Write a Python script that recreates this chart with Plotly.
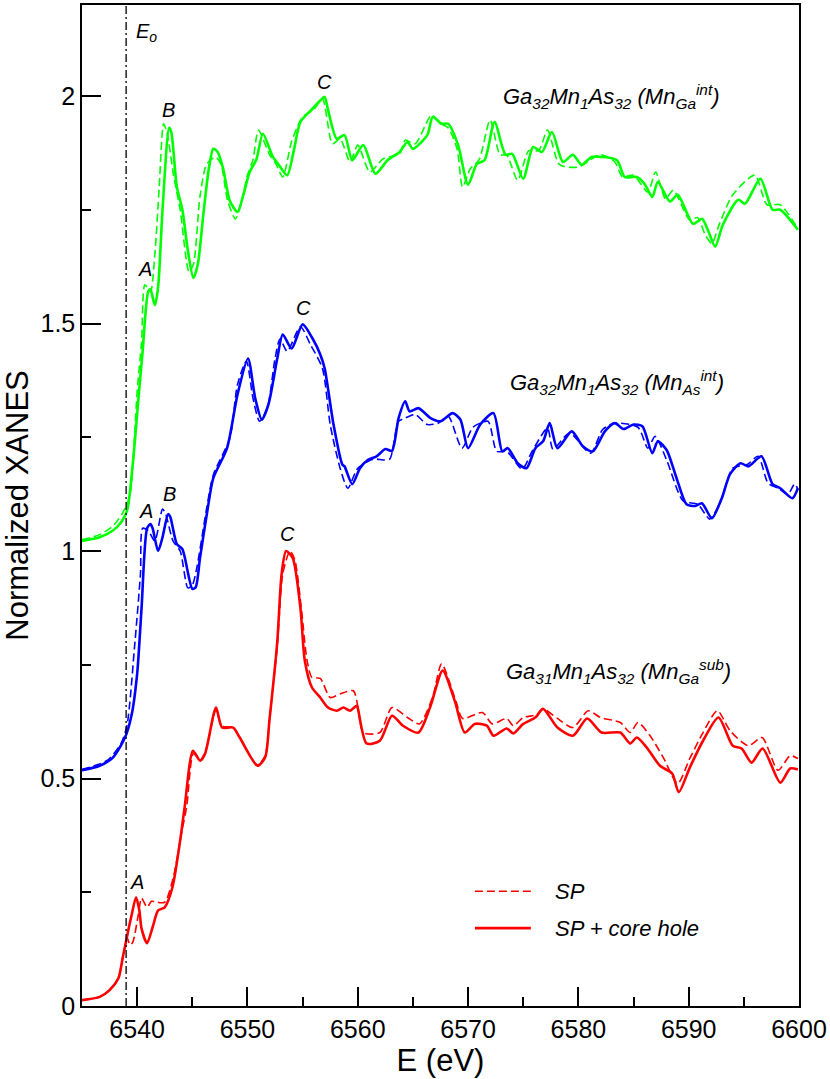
import plotly.graph_objects as go

# ---------------- data ----------------
E_edge = 6539.0

gs_E = [6535.0,6536.6,6537.8,6538.6,6539.1,6539.6,6540.1,6540.5,6541.0,6541.2,6541.6,6541.9,6542.3,6542.9,6543.1,6543.6,6544.1,6544.6,6545.1,6545.5,6546.0,6546.5,6546.9,6547.3,6547.8,6548.4,6549.1,6549.6,6550.2,6550.8,6551.4,6552.3,6552.8,6553.6,6554.2,6554.8,6555.9,6556.6,6557.0,6557.3,6558.1,6558.8,6559.5,6560.5,6561.6,6562.7,6563.8,6564.5,6565.0,6566.3,6566.8,6567.6,6568.2,6569.1,6570.0,6570.8,6571.5,6572.4,6573.4,6574.0,6575.0,6575.9,6576.7,6577.6,6578.6,6579.5,6580.3,6581.2,6582.2,6583.5,6584.2,6585.3,6586.0,6586.7,6587.2,6588.3,6589.0,6590.4,6591.2,6591.8,6592.4,6593.1,6594.5,6595.1,6596.5,6597.6,6598.3,6599.9]
gs_y = [1.022,1.030,1.045,1.065,1.09,1.19,1.33,1.44,1.57,1.575,1.54,1.58,1.75,1.93,1.92,1.80,1.75,1.66,1.60,1.63,1.74,1.84,1.884,1.877,1.84,1.77,1.745,1.78,1.833,1.86,1.917,1.866,1.85,1.826,1.88,1.943,1.972,1.99,1.998,1.97,1.906,1.914,1.859,1.892,1.829,1.859,1.877,1.899,1.884,1.914,1.954,1.939,1.939,1.892,1.805,1.851,1.859,1.943,1.871,1.873,1.818,1.888,1.877,1.921,1.855,1.871,1.849,1.866,1.866,1.859,1.822,1.822,1.807,1.778,1.811,1.768,1.783,1.719,1.730,1.702,1.669,1.717,1.772,1.763,1.818,1.750,1.750,1.706]

gd_E = [6535.0,6536.6,6537.8,6538.6,6539.1,6539.4,6540.0,6540.4,6540.7,6541.2,6541.6,6542.0,6542.4,6542.7,6543.3,6543.9,6544.7,6545.1,6545.7,6546.3,6547.1,6547.6,6548.2,6548.9,6549.4,6550.0,6550.5,6551.0,6552.0,6552.6,6553.2,6554.0,6555.0,6556.0,6556.8,6557.7,6558.4,6559.3,6560.0,6561.1,6562.3,6563.8,6564.3,6565.2,6566.7,6567.5,6568.2,6569.0,6569.5,6570.2,6571.0,6572.0,6572.9,6573.5,6574.5,6575.5,6576.4,6577.2,6578.3,6580.0,6582.0,6583.3,6584.0,6585.0,6586.3,6587.0,6587.9,6588.6,6590.1,6590.8,6591.5,6592.1,6592.8,6594.0,6596.0,6597.1,6598.3,6599.9]
gd_y = [1.025,1.036,1.055,1.08,1.105,1.13,1.35,1.46,1.585,1.57,1.65,1.80,1.939,1.92,1.826,1.75,1.614,1.63,1.78,1.85,1.866,1.85,1.77,1.730,1.76,1.826,1.86,1.925,1.871,1.85,1.822,1.90,1.954,1.97,1.994,1.895,1.906,1.855,1.892,1.833,1.862,1.873,1.903,1.895,1.958,1.94,1.93,1.884,1.80,1.84,1.86,1.947,1.871,1.87,1.815,1.88,1.88,1.925,1.849,1.844,1.871,1.855,1.822,1.826,1.789,1.833,1.774,1.793,1.727,1.733,1.695,1.676,1.72,1.783,1.826,1.761,1.761,1.708]

bs_E = [6535.0,6536.6,6537.8,6538.9,6539.5,6540.0,6540.4,6540.9,6541.2,6541.4,6541.9,6542.3,6542.8,6543.0,6543.6,6544.1,6545.0,6545.3,6545.7,6546.4,6546.9,6548.15,6549.1,6550.05,6550.7,6551.3,6551.9,6552.7,6553.2,6554.0,6555.0,6555.9,6556.6,6557.0,6557.8,6558.6,6558.8,6559.5,6560.2,6560.9,6561.7,6562.5,6563.1,6563.7,6564.3,6564.7,6565.5,6566.6,6567.5,6568.6,6569.3,6570.0,6571.1,6572.3,6573.1,6573.6,6574.5,6575.3,6576.1,6576.8,6577.4,6578.1,6579.4,6580.4,6581.3,6582.4,6583.3,6584.1,6585.0,6585.8,6586.7,6587.2,6588.0,6588.9,6589.8,6590.6,6591.2,6592.1,6593.0,6593.75,6594.7,6595.4,6596.6,6597.6,6598.3,6599.4,6599.9]
bs_y = [0.518,0.528,0.546,0.59,0.64,0.73,0.875,1.05,1.059,1.05,1.0,1.03,1.081,1.075,1.015,1.004,0.917,0.92,0.985,1.094,1.16,1.226,1.344,1.423,1.336,1.289,1.322,1.423,1.476,1.445,1.498,1.467,1.432,1.401,1.278,1.19,1.186,1.147,1.182,1.20,1.208,1.224,1.22,1.292,1.329,1.307,1.314,1.292,1.285,1.303,1.289,1.226,1.278,1.303,1.219,1.226,1.193,1.182,1.226,1.241,1.281,1.226,1.263,1.230,1.219,1.263,1.281,1.268,1.278,1.274,1.215,1.241,1.222,1.16,1.103,1.099,1.105,1.072,1.116,1.169,1.193,1.186,1.208,1.147,1.138,1.116,1.138]

bd_E = [6535.0,6536.6,6537.5,6538.6,6539.1,6539.8,6540.3,6540.5,6541.0,6541.6,6542.3,6542.6,6543.25,6543.9,6544.6,6545.0,6545.4,6546.3,6546.9,6548.4,6549.1,6549.9,6550.5,6551.1,6551.8,6552.5,6552.95,6553.6,6554.8,6555.7,6556.8,6557.5,6558.4,6559.1,6560.0,6561.4,6562.3,6562.9,6563.7,6564.3,6565.2,6566.3,6567.3,6568.2,6569.45,6570.45,6571.8,6572.6,6573.5,6574.9,6575.8,6577.2,6577.7,6579.2,6581.1,6582.2,6583.3,6585.4,6586.3,6586.95,6588.0,6589.5,6590.8,6591.5,6591.9,6592.8,6594.0,6595.3,6596.3,6597.2,6598.1,6599.0,6599.6,6599.9]
bd_y = [0.52,0.532,0.544,0.58,0.62,0.80,0.95,1.05,1.045,1.022,1.092,1.08,1.022,1.0,0.919,0.925,0.962,1.094,1.167,1.248,1.366,1.417,1.336,1.285,1.314,1.423,1.466,1.439,1.493,1.454,1.401,1.278,1.182,1.138,1.182,1.202,1.20,1.202,1.285,1.292,1.30,1.278,1.281,1.296,1.226,1.272,1.285,1.219,1.219,1.18,1.219,1.270,1.224,1.259,1.215,1.267,1.281,1.272,1.226,1.252,1.20,1.11,1.103,1.081,1.07,1.103,1.182,1.19,1.208,1.149,1.138,1.125,1.147,1.136]

rs_E = [6535.0,6536.6,6537.5,6538.3,6538.7,6539.2,6539.5,6539.9,6540.2,6540.4,6540.9,6541.4,6541.9,6542.5,6543.2,6543.9,6544.3,6545.06,6545.7,6546.15,6547.15,6547.7,6548.7,6549.3,6550.9,6551.6,6552.0,6552.7,6553.1,6553.5,6554.1,6554.8,6555.2,6555.85,6556.6,6557.3,6558.1,6558.7,6559.3,6559.9,6560.0,6560.8,6562.0,6563.1,6564.1,6565.5,6566.55,6567.7,6568.8,6569.7,6570.6,6571.7,6572.3,6573.5,6574.1,6575.0,6576.1,6576.8,6578.1,6579.5,6580.8,6582.1,6583.8,6584.7,6585.3,6586.2,6587.4,6588.5,6589.1,6590.1,6591.3,6592.7,6594.0,6594.8,6595.7,6596.7,6598.3,6599.2,6599.9]
rs_y = [0.013,0.02,0.035,0.061,0.107,0.167,0.20,0.239,0.21,0.17,0.138,0.173,0.21,0.217,0.261,0.364,0.436,0.561,0.539,0.554,0.656,0.612,0.612,0.59,0.528,0.546,0.63,0.80,0.95,1.0,0.985,0.875,0.759,0.70,0.678,0.656,0.649,0.656,0.649,0.66,0.655,0.577,0.583,0.638,0.616,0.601,0.656,0.737,0.67,0.601,0.62,0.616,0.594,0.61,0.599,0.62,0.634,0.653,0.612,0.594,0.632,0.601,0.601,0.577,0.59,0.568,0.528,0.511,0.47,0.524,0.583,0.634,0.572,0.566,0.535,0.566,0.491,0.522,0.52]

rd_E = [6535.0,6536.6,6537.5,6538.3,6538.7,6539.1,6539.35,6539.6,6540.1,6540.4,6540.9,6541.3,6541.8,6542.5,6543.25,6544.07,6544.5,6545.1,6545.7,6546.2,6547.15,6547.7,6548.7,6549.3,6550.9,6551.6,6552.0,6552.7,6553.2,6553.86,6554.3,6554.9,6555.4,6555.85,6556.6,6557.5,6558.4,6559.6,6560.0,6560.5,6562.0,6563.1,6564.5,6565.6,6566.8,6567.6,6568.9,6569.5,6571.3,6572.2,6573.5,6574.1,6575.0,6576.2,6576.8,6578.1,6579.5,6580.9,6582.0,6583.8,6584.7,6585.4,6586.5,6587.7,6589.0,6590.1,6591.3,6592.6,6593.75,6595.4,6596.65,6598.1,6599.2,6599.9]
rd_y = [0.013,0.02,0.035,0.061,0.107,0.15,0.134,0.14,0.20,0.237,0.217,0.23,0.228,0.228,0.28,0.386,0.44,0.555,0.54,0.56,0.65,0.615,0.612,0.59,0.53,0.55,0.63,0.79,0.95,1.0,0.98,0.87,0.76,0.722,0.72,0.678,0.686,0.693,0.66,0.601,0.601,0.656,0.634,0.62,0.68,0.752,0.67,0.632,0.645,0.62,0.632,0.616,0.634,0.64,0.653,0.632,0.612,0.649,0.634,0.623,0.601,0.623,0.594,0.546,0.489,0.544,0.601,0.649,0.605,0.572,0.59,0.518,0.55,0.544]

x_ticks = [6540, 6550, 6560, 6570, 6580, 6590, 6600]
y_ticks = [0, 0.5, 1, 1.5, 2]
y_tick_text = ["0", "0.5", "1", "1.5", "2"]
legend_labels = ["SP", "SP + core hole"]

GREEN = "#00ff00"
BLUE = "#0000ff"
RED = "#ff0000"
FONT = "Liberation Sans, Arial, sans-serif"
DASH = "8px,4px"
W_DASH, W_SOLID = 1.6, 2.6

fig = go.Figure()

def add(xs, ys, color, dashed):
    fig.add_trace(go.Scatter(
        x=xs, y=ys, mode="lines", showlegend=False,
        line=dict(color=color, width=W_DASH if dashed else W_SOLID,
                  dash=DASH if dashed else "solid",
                  shape="spline", smoothing=0.7),
        hoverinfo="skip"))

add(gd_E, gd_y, GREEN, True)
add(gs_E, gs_y, GREEN, False)
add(bd_E, bd_y, BLUE, True)
add(bs_E, bs_y, BLUE, False)
add(rd_E, rd_y, RED, True)
add(rs_E, rs_y, RED, False)

# edge line E_o
fig.add_shape(type="line", xref="x", yref="paper", x0=E_edge, x1=E_edge, y0=0, y1=1,
              line=dict(color="black", width=1.3, dash="8px,3px,2px,3px"))

ann_font = dict(family=FONT, size=22, color="black")
let_font = dict(family=FONT, size=20, color="black")

def ann(x, y, text, font, xanchor="center"):
    fig.add_annotation(x=x, y=y, xref="x", yref="y", text=text, showarrow=False,
                       font=font, xanchor=xanchor, yanchor="middle")

ann(6573.0, 2.0, "<i>Ga<sub>32</sub>Mn<sub>1</sub>As<sub>32</sub> (Mn<sub>Ga</sub><sup>int</sup>)</i>", ann_font, "left")
ann(6573.6, 1.37, "<i>Ga<sub>32</sub>Mn<sub>1</sub>As<sub>32</sub> (Mn<sub>As</sub><sup>int</sup>)</i>", ann_font, "left")
ann(6573.3, 0.735, "<i>Ga<sub>31</sub>Mn<sub>1</sub>As<sub>32</sub> (Mn<sub>Ga</sub><sup>sub</sup>)</i>", ann_font, "left")

ann(6539.7, 2.14, "<i>E<sub>o</sub></i>", let_font, "left")
ann(6540.7, 1.62, "<i>A</i>", let_font)
ann(6542.8, 1.97, "<i>B</i>", let_font)
ann(6557.0, 2.03, "<i>C</i>", let_font)
ann(6540.8, 1.088, "<i>A</i>", let_font)
ann(6542.9, 1.125, "<i>B</i>", let_font)
ann(6555.1, 1.533, "<i>C</i>", let_font)
ann(6553.6, 1.037, "<i>C</i>", let_font)
ann(6540.0, 0.272, "<i>A</i>", let_font)

# legend (drawn as sample lines + text, in paper coordinates)
for yy, dashed, label in [(0.1147, True, legend_labels[0]), (0.0778, False, legend_labels[1])]:
    fig.add_shape(type="line", xref="paper", yref="paper", x0=0.548, x1=0.626, y0=yy, y1=yy,
                  line=dict(color=RED, width=W_DASH if dashed else W_SOLID,
                            dash=DASH if dashed else "solid"))
    fig.add_annotation(x=0.657, y=yy, xref="paper", yref="paper", text="<i>%s</i>" % label,
                       showarrow=False, xanchor="left", yanchor="middle",
                       font=dict(family=FONT, size=22, color="black"))

axis_common = dict(showgrid=False, zeroline=False, showline=True, linecolor="black",
                   linewidth=1.5, mirror=True, ticks="inside", ticklen=19, tickwidth=1.5,
                   tickcolor="black", tickfont=dict(family=FONT, size=25, color="black"))

fig.update_xaxes(range=[6535, 6600], tickvals=x_ticks,
                 minor=dict(dtick=5, ticks="inside", ticklen=9, tickwidth=1.5, tickcolor="black"),
                 title=dict(text="E (eV)", font=dict(family=FONT, size=31, color="black"), standoff=2),
                 **axis_common)
fig.update_yaxes(range=[0, 2.2], tickvals=y_ticks, ticktext=y_tick_text,
                 minor=dict(dtick=0.25, ticks="inside", ticklen=9, tickwidth=1.5, tickcolor="black"),
                 title=dict(text="Normalized XANES", font=dict(family=FONT, size=31, color="black"), standoff=8),
                 **axis_common)

fig.update_layout(
    width=830, height=1079,
    margin=dict(l=82, r=31, t=3, b=73),
    plot_bgcolor="white", paper_bgcolor="white",
    showlegend=False,
)

fig.write_html("out.html", config={"displayModeBar": False},
               post_script="document.body.style.margin='0';")
